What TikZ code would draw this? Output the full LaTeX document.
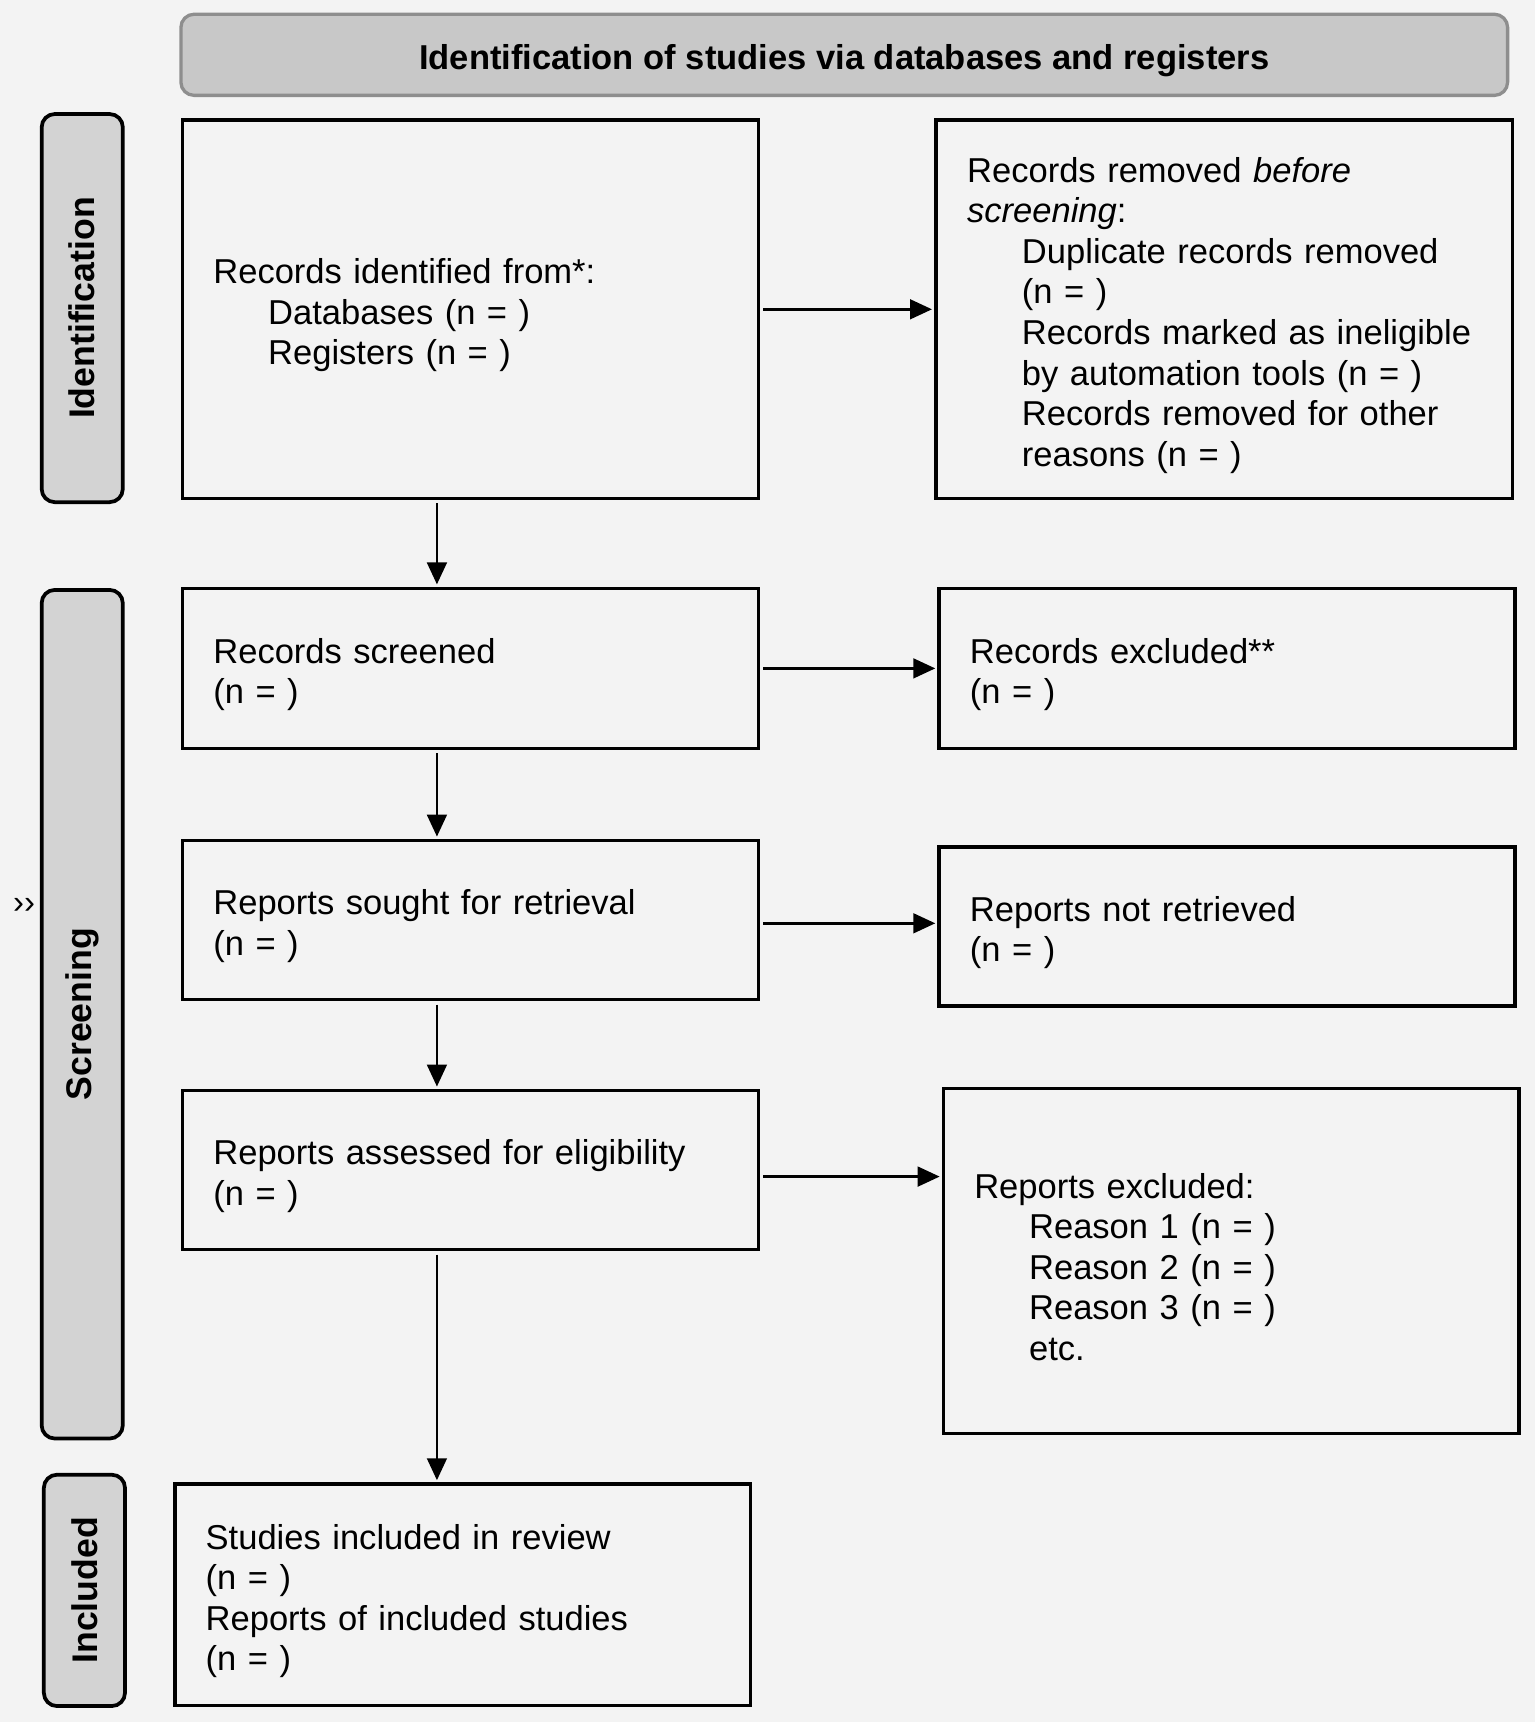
\documentclass[tikz,border=0pt]{standalone}
\usepackage{fontspec}
\setmainfont{Liberation Sans}
\usetikzlibrary{arrows.meta,calc}
\definecolor{bg}{HTML}{F3F3F3}
\definecolor{bannerfill}{HTML}{C8C8C8}
\definecolor{bannerline}{HTML}{8E8E8E}
\definecolor{sidefill}{HTML}{D3D3D3}
\begin{document}
\begin{tikzpicture}[x=1pt,y=-1pt,
  box/.style={draw=black, line width=3.2pt, fill=bg, anchor=north west,
    inner xsep=28pt, inner ysep=0pt, text width=469pt, minimum width=525pt,
    align=left, font=\fontsize{31.5}{37}\selectfont,
    execute at end node={\endgraf\vspace*{-11pt}}},
  side/.style={draw=black, line width=3.4pt, fill=sidefill, rounded corners=12pt,
    rotate=90, minimum height=74pt, inner sep=0pt, font=\fontsize{32.5}{32}\selectfont\bfseries},
  banner/.style={draw=bannerline, line width=3pt, fill=bannerfill, rounded corners=12pt,
    minimum width=1210pt, minimum height=74pt, inner sep=0pt, font=\fontsize{31.5}{32}\selectfont\bfseries},
  arr/.style={line width=2.2pt, -{Triangle[length=20pt,width=18pt]}, shorten >=2pt, shorten <=3pt}
]
\fill[bg] (0,0) rectangle (1400,1570.55);
\useasboundingbox (0,0) rectangle (1400,1570.55);

\node[banner] (ban) at (770,50) {\raisebox{-5pt}[\height][\depth]{Identification of studies via databases and registers}};

\node[side, minimum width=354pt] (sid) at (75,281) {Identification};
\node[side, minimum width=774pt] (sscr) at (75,925) {Screening};
\node[side, minimum width=211pt] (sinc) at (77,1450.5) {Included};

\node (mk) at (22,826) {\fontsize{30}{30}\selectfont ››};

\node[box, minimum height=345pt] (b1) at (165,108)
  {Records identified from*:\\\hspace*{50pt}Databases (n = )\\\hspace*{50pt}Registers (n = )};
\node[box, minimum height=345pt, minimum width=526pt] (b2) at (852,108)
  {Records removed \textit{before}\\\textit{screening}:\\\hspace*{50pt}Duplicate records removed\\\hspace*{50pt}(n = )\\\hspace*{50pt}Records marked as ineligible\\\hspace*{50pt}by automation tools (n = )\\\hspace*{50pt}Records removed for other\\\hspace*{50pt}reasons (n = )};
\node[box, minimum height=146pt] (b3) at (165,535) {Records screened\\(n = )};
\node[box, minimum height=146pt] (b4) at (855,535) {Records excluded**\\(n = )};
\node[box, minimum height=145pt] (b5) at (165,765) {Reports sought for retrieval\\(n = )};
\node[box, minimum height=145pt] (b6) at (855,771) {Reports not retrieved\\(n = )};
\node[box, minimum height=145pt] (b7) at (165,993) {Reports assessed for eligibility\\(n = )};
\node[box, minimum height=315pt] (b8) at (859,991)
  {Reports excluded:\\\hspace*{50pt}Reason 1 (n = )\\\hspace*{50pt}Reason 2 (n = )\\\hspace*{50pt}Reason 3 (n = )\\\hspace*{50pt}etc.};
\node[box, minimum height=202pt] (b9) at (158,1352)
  {Studies included in review\\(n = )\\Reports of included studies\\(n = )};

\coordinate (vx) at (398.5,0);
\draw[arr] (b1.south -| vx) -- (b3.north -| vx);
\draw[arr] (b3.south -| vx) -- (b5.north -| vx);
\draw[arr] (b5.south -| vx) -- (b7.north -| vx);
\draw[arr] (b7.south -| vx) -- (b9.north -| vx);

\draw[arr] (b1.east) -- (b1.east -| b2.west);
\draw[arr] (b3.east) -- (b3.east -| b4.west);
\draw[arr] ($(b5.east)+(0,3)$) -- ($(b5.east -| b6.west)+(0,3)$);
\draw[arr] ($(b7.east)+(0,6)$) -- ($(b7.east -| b8.west)+(0,6)$);
\end{tikzpicture}
\end{document}
